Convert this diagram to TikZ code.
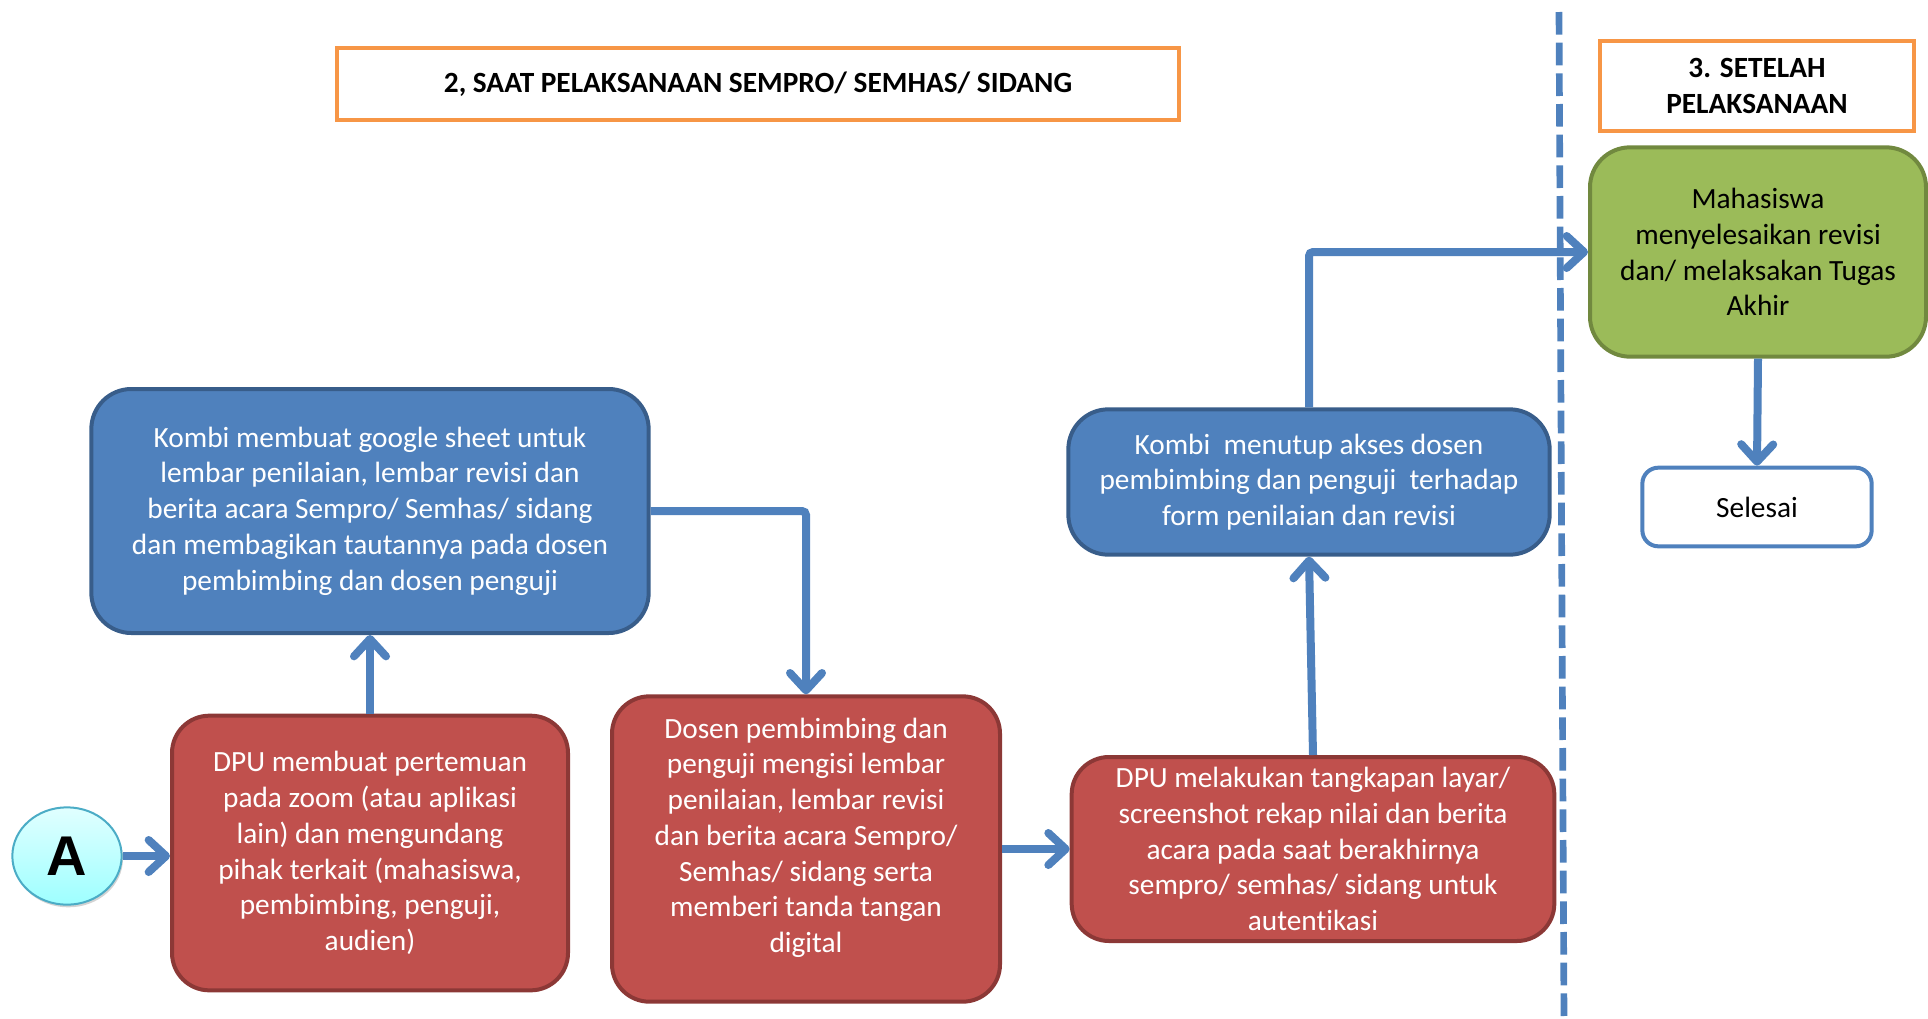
\documentclass[tikz,border=0pt]{standalone}
\usepackage{fontspec}
\setmainfont{Carlito}[Ligatures=NoCommon]
\newfontfamily\arialfont{Liberation Sans}
\usetikzlibrary{arrows.meta,shapes.geometric,shadows}
\definecolor{boxblue}{HTML}{4F81BD}
\definecolor{boxblueline}{HTML}{385D8A}
\definecolor{boxred}{HTML}{C0504D}
\definecolor{boxredline}{HTML}{8C3836}
\definecolor{boxgreen}{HTML}{9BBB59}
\definecolor{boxgreenline}{HTML}{71893F}
\definecolor{headorange}{HTML}{F79646}
\definecolor{circleline}{HTML}{4BACC6}
\begin{document}
\begin{tikzpicture}[x=0.75pt,y=-0.75pt,
  body/.style={align=center,font=\fontsize{22}{26.8}\selectfont,inner sep=0pt},
  bluebox/.style={body,rectangle,rounded corners=30pt,draw=boxblueline,line width=3pt,fill=boxblue,text=white},
  redbox/.style={body,rectangle,rounded corners=28pt,draw=boxredline,line width=3pt,fill=boxred,text=white},
  greenbox/.style={body,rectangle,rounded corners=30pt,draw=boxgreenline,line width=3pt,fill=boxgreen,text=black},
  endbox/.style={body,rectangle,rounded corners=12pt,draw=boxblue,line width=3pt,fill=white},
  headbox/.style={align=center,font=\fontsize{22}{26.8}\selectfont\bfseries,draw=headorange,line width=3pt,fill=white},
  startcircle/.style={ellipse,draw=circleline,line width=1.5pt,top color=cyan!12,bottom color=cyan!38!white,
    drop shadow={opacity=0.35,shadow xshift=1pt,shadow yshift=-2pt},font=\arialfont\fontsize{42}{42}\selectfont\bfseries},
  flow/.style={draw=boxblue,line width=6pt,rounded corners=3pt,-{Straight Barb[length=13pt,width=24pt,round]}},
  divider/.style={draw=boxblue,line width=5pt,dash pattern=on 17pt off 6pt}]
\useasboundingbox (0,0) rectangle (1928,1018);

% headers
\node[headbox,minimum width=631pt,minimum height=54pt](head2) at (758,84){2, SAAT PELAKSANAAN SEMPRO/ SEMHAS/ SIDANG};
\node[headbox,minimum width=236pt,minimum height=68pt](head3) at (1757,86){3. SETELAH\\PELAKSANAAN};

% divider between the two phases
\coordinate (dtop) at (1559,12);
\coordinate (dbot) at (1564,1018);
\draw[divider] (dtop)--(dbot);

% boxes
\node[startcircle,minimum width=82pt,minimum height=73pt,inner sep=0pt](start) at (67,856){A};
\node[redbox,minimum width=297pt,minimum height=206pt](zoom) at (370,853){DPU membuat pertemuan\\pada zoom (atau aplikasi\\lain) dan mengundang\\pihak terkait (mahasiswa,\\pembimbing, penguji,\\audien)};
\node[bluebox,minimum width=418pt,minimum height=183pt](sheet) at (370,511){Kombi membuat google sheet untuk\\lembar penilaian, lembar revisi dan\\berita acara Sempro/ Semhas/ sidang\\dan membagikan tautannya pada dosen\\pembimbing dan dosen penguji};
\node[redbox,minimum width=291pt,minimum height=229pt](isi) at (806,849){Dosen pembimbing dan\\penguji mengisi lembar\\penilaian, lembar revisi\\dan berita acara Sempro/\\Semhas/ sidang serta\\memberi tanda tangan\\digital\\[-6pt]\mbox{}};
\node[redbox,minimum width=362pt,minimum height=138pt](capture) at (1313,849){DPU melakukan tangkapan layar/\\screenshot rekap nilai dan berita\\acara pada saat berakhirnya\\sempro/ semhas/ sidang untuk\\autentikasi};
\node[bluebox,minimum width=361pt,minimum height=109pt](tutup) at (1309,482){Kombi\ \ menutup akses dosen\\pembimbing dan penguji\ \ terhadap\\form penilaian dan revisi};
\node[greenbox,minimum width=252pt,minimum height=157pt](revisi) at (1758,252){Mahasiswa\\menyelesaikan revisi\\dan/ melaksakan Tugas\\Akhir};
\node[endbox,minimum width=172pt,minimum height=59pt](selesai) at (1757,507){Selesai};

% connectors
\draw[flow] (start.east)--(start.east-|zoom.west);
\draw[flow] (zoom.north)--(sheet.south);
\draw[flow] (sheet.east)-|(isi.north);
\draw[flow] (isi.east)--(capture.west);
\draw[flow] (capture.north)--(tutup.south);
\draw[flow] (tutup.north)|-(revisi.west);
\draw[flow] (revisi.south)--(selesai.north);

\end{tikzpicture}
\end{document}
